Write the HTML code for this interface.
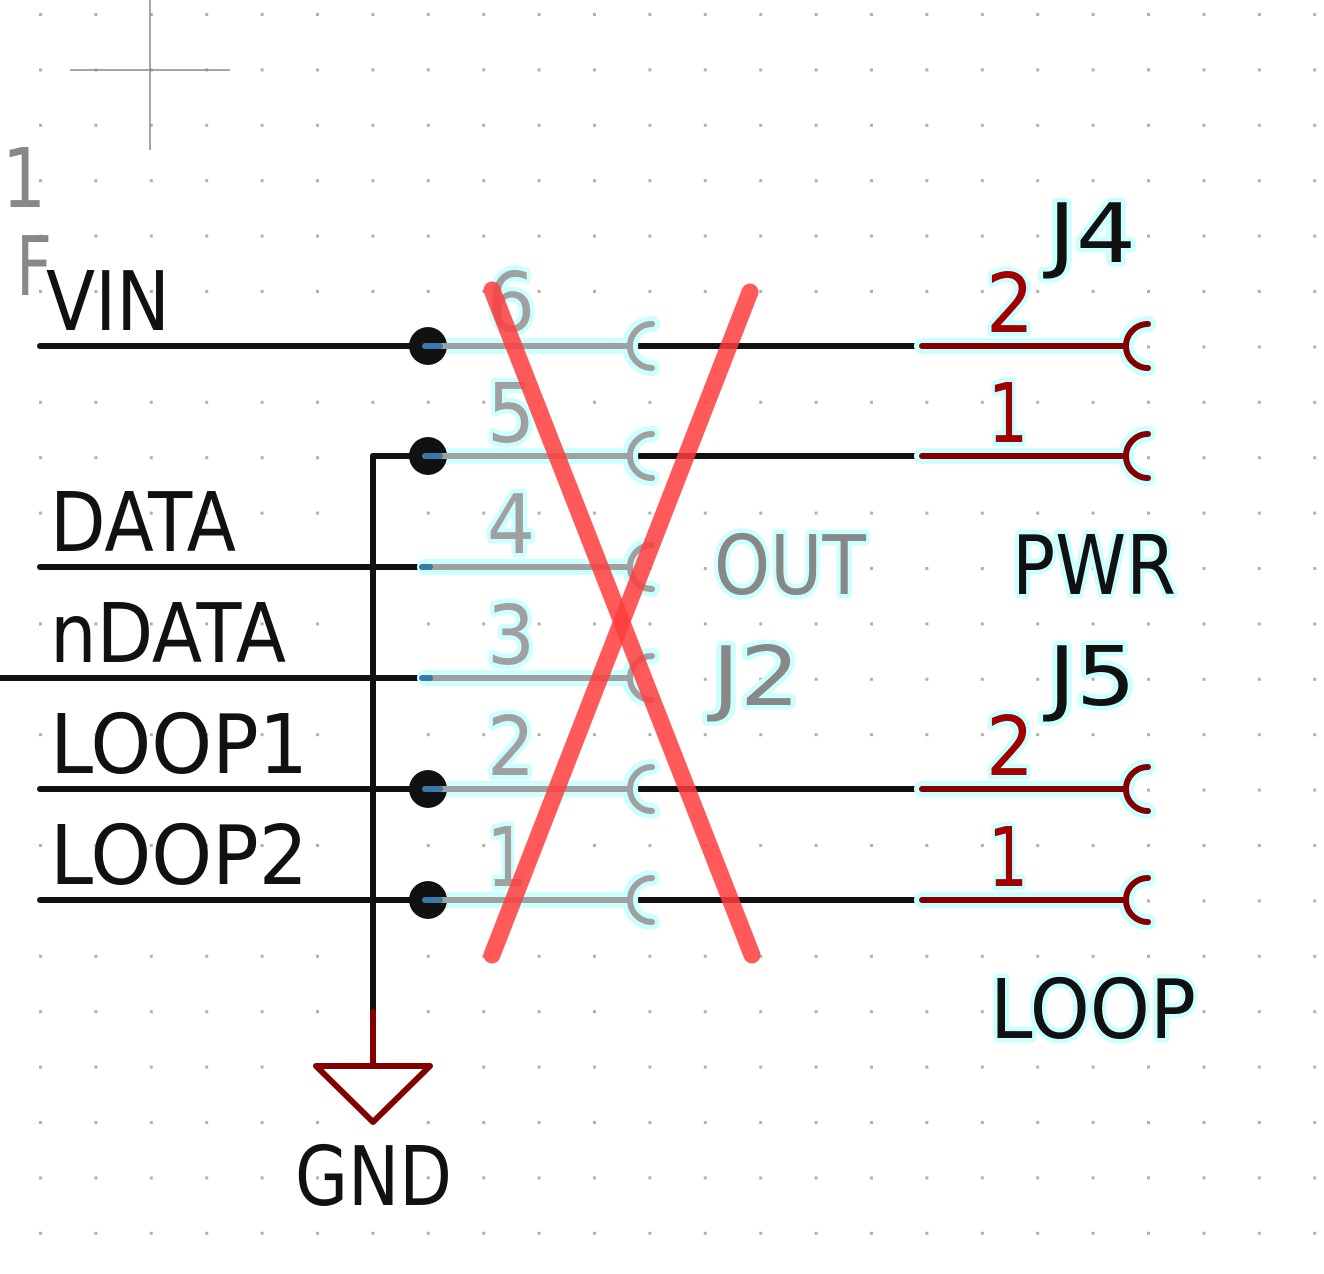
<!DOCTYPE html>
<html><head><meta charset="utf-8"><style>
html,body{margin:0;padding:0;background:#fff;}
svg{display:block;}
text{font-family:"DejaVu Sans","Liberation Sans",sans-serif;font-size:82px;}
.h{paint-order:stroke;stroke:#ccffff;stroke-width:9px;stroke-linejoin:round;}
</style></head><body>
<svg width="1324" height="1274" viewBox="0 0 1324 1274" xmlns="http://www.w3.org/2000/svg">
<defs>
<pattern id="g" x="38" y="12" width="55.4" height="55.4" patternUnits="userSpaceOnUse">
<rect x="1" y="1" width="3" height="3" fill="#b0b0b0"/>
</pattern>
</defs>
<rect width="1324" height="1274" fill="url(#g)"/>
<line x1="70" y1="70" x2="230" y2="70" stroke="#888" stroke-width="1.5"/>
<line x1="150" y1="0" x2="150" y2="150" stroke="#888" stroke-width="1.5"/>
<text x="2" y="207" fill="#888" textLength="44" lengthAdjust="spacingAndGlyphs">1</text>
<text x="16" y="295" fill="#888" textLength="36" lengthAdjust="spacingAndGlyphs">F</text>

<g stroke="#111" stroke-width="6" stroke-linecap="round" fill="none">
<line x1="40" y1="346" x2="428" y2="346"/>
<line x1="635" y1="346" x2="922" y2="346"/>
<line x1="373" y1="456" x2="428" y2="456"/>
<line x1="635" y1="456" x2="922" y2="456"/>
<line x1="40" y1="567" x2="422" y2="567"/>
<line x1="0" y1="678" x2="422" y2="678"/>
<line x1="40" y1="789" x2="428" y2="789"/>
<line x1="635" y1="789" x2="922" y2="789"/>
<line x1="40" y1="900" x2="428" y2="900"/>
<line x1="635" y1="900" x2="922" y2="900"/>
<line x1="373" y1="456" x2="373" y2="1012"/>
</g>

<g stroke="#840000" stroke-width="6" fill="none" stroke-linejoin="round" stroke-linecap="round">
<line x1="373" y1="1012" x2="373" y2="1066"/>
<path d="M316,1066 L430,1066 L373,1122 Z"/>
</g>
<text x="295" y="1205" fill="#111" textLength="157" lengthAdjust="spacingAndGlyphs">GND</text>

<g fill="none" stroke-linecap="round">
<g stroke="#ccffff" stroke-width="16">
<line x1="428" y1="346" x2="630" y2="346"/><path d="M652,324 A22,22 0 0 0 652,368"/>
<line x1="428" y1="456" x2="630" y2="456"/><path d="M652,434 A22,22 0 0 0 652,478"/>
<line x1="425" y1="567" x2="630" y2="567"/><path d="M652,545 A22,22 0 0 0 652,589"/>
<line x1="425" y1="678" x2="630" y2="678"/><path d="M652,656 A22,22 0 0 0 652,700"/>
<line x1="428" y1="789" x2="630" y2="789"/><path d="M652,767 A22,22 0 0 0 652,811"/>
<line x1="428" y1="900" x2="630" y2="900"/><path d="M652,878 A22,22 0 0 0 652,922"/>
</g>
</g>
<g fill="#111">
<circle cx="428" cy="346" r="19"/><circle cx="428" cy="456" r="19"/>
<circle cx="428" cy="789" r="19"/><circle cx="428" cy="900" r="19"/>
</g>
<g fill="none" stroke-linecap="round">
<g stroke="#a0a0a0" stroke-width="6">
<line x1="428" y1="346" x2="630" y2="346"/><path d="M652,324 A22,22 0 0 0 652,368"/>
<line x1="428" y1="456" x2="630" y2="456"/><path d="M652,434 A22,22 0 0 0 652,478"/>
<line x1="425" y1="567" x2="630" y2="567"/><path d="M652,545 A22,22 0 0 0 652,589"/>
<line x1="425" y1="678" x2="630" y2="678"/><path d="M652,656 A22,22 0 0 0 652,700"/>
<line x1="428" y1="789" x2="630" y2="789"/><path d="M652,767 A22,22 0 0 0 652,811"/>
<line x1="428" y1="900" x2="630" y2="900"/><path d="M652,878 A22,22 0 0 0 652,922"/>
</g>
<g stroke="#3a78a8" stroke-width="6">
<line x1="425" y1="346" x2="440" y2="346"/><line x1="425" y1="456" x2="440" y2="456"/>
<line x1="422" y1="567" x2="430" y2="567"/><line x1="422" y1="678" x2="430" y2="678"/>
<line x1="425" y1="789" x2="440" y2="789"/><line x1="425" y1="900" x2="440" y2="900"/>
</g>
</g>
<g fill="#a0a0a0" class="h">
<text x="487" y="331" textLength="48" lengthAdjust="spacingAndGlyphs">6</text>
<text x="487" y="442" textLength="48" lengthAdjust="spacingAndGlyphs">5</text>
<text x="487" y="553" textLength="48" lengthAdjust="spacingAndGlyphs">4</text>
<text x="487" y="664" textLength="48" lengthAdjust="spacingAndGlyphs">3</text>
<text x="487" y="775" textLength="48" lengthAdjust="spacingAndGlyphs">2</text>
<text x="487" y="886" textLength="40" lengthAdjust="spacingAndGlyphs">1</text>
</g>
<g fill="#888" class="h">
<text x="714" y="594" textLength="152" lengthAdjust="spacingAndGlyphs">OUT</text>
<text x="712" y="705" textLength="88" lengthAdjust="spacingAndGlyphs">J2</text>
</g>

<g fill="none" stroke-linecap="round">
<g stroke="#ccffff" stroke-width="16">
<line x1="922" y1="346" x2="1126" y2="346"/><path d="M1148,324 A22,22 0 0 0 1148,368"/>
<line x1="922" y1="456" x2="1126" y2="456"/><path d="M1148,434 A22,22 0 0 0 1148,478"/>
<line x1="922" y1="789" x2="1126" y2="789"/><path d="M1148,767 A22,22 0 0 0 1148,811"/>
<line x1="922" y1="900" x2="1126" y2="900"/><path d="M1148,878 A22,22 0 0 0 1148,922"/>
</g>
<g stroke="#840000" stroke-width="6">
<line x1="922" y1="346" x2="1126" y2="346"/><path d="M1148,324 A22,22 0 0 0 1148,368"/>
<line x1="922" y1="456" x2="1126" y2="456"/><path d="M1148,434 A22,22 0 0 0 1148,478"/>
<line x1="922" y1="789" x2="1126" y2="789"/><path d="M1148,767 A22,22 0 0 0 1148,811"/>
<line x1="922" y1="900" x2="1126" y2="900"/><path d="M1148,878 A22,22 0 0 0 1148,922"/>
</g>
</g>
<g fill="#a00000" class="h">
<text x="986" y="332" textLength="48" lengthAdjust="spacingAndGlyphs">2</text>
<text x="988" y="442" textLength="40" lengthAdjust="spacingAndGlyphs">1</text>
<text x="986" y="775" textLength="48" lengthAdjust="spacingAndGlyphs">2</text>
<text x="988" y="886" textLength="40" lengthAdjust="spacingAndGlyphs">1</text>
</g>
<g fill="#111" class="h">
<text x="1048" y="262" textLength="88" lengthAdjust="spacingAndGlyphs">J4</text>
<text x="1012" y="594" textLength="164" lengthAdjust="spacingAndGlyphs">PWR</text>
<text x="1048" y="705" textLength="88" lengthAdjust="spacingAndGlyphs">J5</text>
<text x="990" y="1038" textLength="206" lengthAdjust="spacingAndGlyphs">LOOP</text>
</g>

<g fill="#111">
<text x="46" y="330" textLength="124" lengthAdjust="spacingAndGlyphs">VIN</text>
<text x="50" y="551" textLength="186" lengthAdjust="spacingAndGlyphs">DATA</text>
<text x="50" y="662" textLength="236" lengthAdjust="spacingAndGlyphs">nDATA</text>
<text x="50" y="773" textLength="258" lengthAdjust="spacingAndGlyphs">LOOP1</text>
<text x="50" y="884" textLength="258" lengthAdjust="spacingAndGlyphs">LOOP2</text>
</g>

<g stroke="#ff3c3c" stroke-opacity="0.85" stroke-width="17" stroke-linecap="round">
<line x1="492" y1="290" x2="752" y2="955"/>
<line x1="750" y1="292" x2="492" y2="955"/>
</g>
</svg>
</body></html>
